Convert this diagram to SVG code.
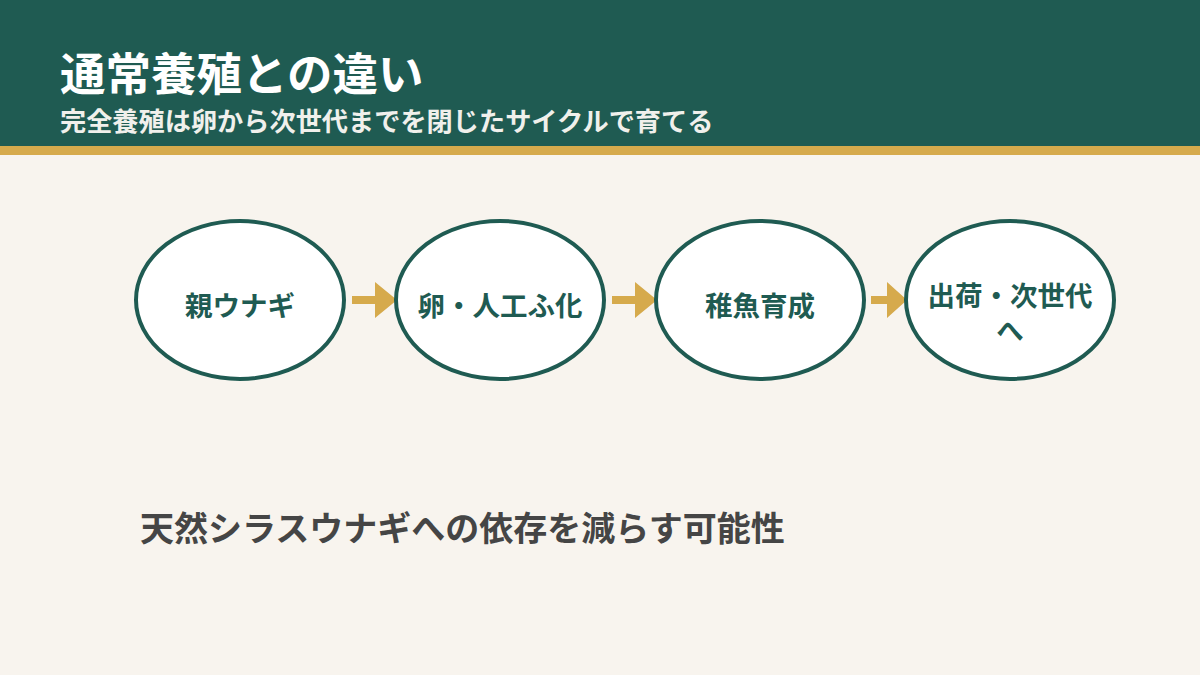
<svg xmlns="http://www.w3.org/2000/svg" width="1200" height="675" viewBox="0 0 1200 675">
<defs>
<style>
.t{font-family:"Noto Sans CJK JP","Noto Sans",sans-serif;font-weight:700}
.node ellipse{fill:#ffffff;stroke:#1f5b52;stroke-width:4}
.node text{fill:#1f5b52;font-size:27.5px;text-anchor:middle}
.arrow{fill:#d6aa4c}
</style>
</defs>
<rect x="0" y="0" width="1200" height="675" fill="#f8f4ee"/>
<rect x="0" y="0" width="1200" height="146" fill="#1f5b52"/>
<rect x="0" y="146" width="1200" height="9" fill="#d6aa4c"/>
<text class="t" x="60" y="91" font-size="45.5" fill="#ffffff">通常養殖との違い</text>
<text class="t" x="60" y="131" font-size="26.2" fill="#f0f0ec">完全養殖は卵から次世代までを閉じたサイクルで育てる</text>
<g id="connectors">
<path class="arrow" d="M352 296 H375 V282 L397 300 L375 318 V304 H352 Z"/>
<path class="arrow" d="M612 296 H635 V282 L657 300 L635 318 V304 H612 Z"/>
<path class="arrow" d="M871 296 H887 V282 L907 300 L887 318 V304 H871 Z"/>
</g>
<g id="n1" class="node t"><ellipse cx="240" cy="300" rx="104" ry="79"/><text x="240" y="316">親ウナギ</text></g>
<g id="n2" class="node t"><ellipse cx="500" cy="300" rx="104" ry="79"/><text x="500" y="316">卵・人工ふ化</text></g>
<g id="n3" class="node t"><ellipse cx="760" cy="300" rx="104" ry="79"/><text x="760" y="316">稚魚育成</text></g>
<g id="n4" class="node t"><ellipse cx="1010" cy="300" rx="104" ry="79"/><text x="1010" y="306">出荷・次世代<tspan x="1010" dy="35">へ</tspan></text></g>
<text class="t" x="140" y="541" font-size="34" fill="#454545">天然シラスウナギへの依存を減らす可能性</text>
</svg>
